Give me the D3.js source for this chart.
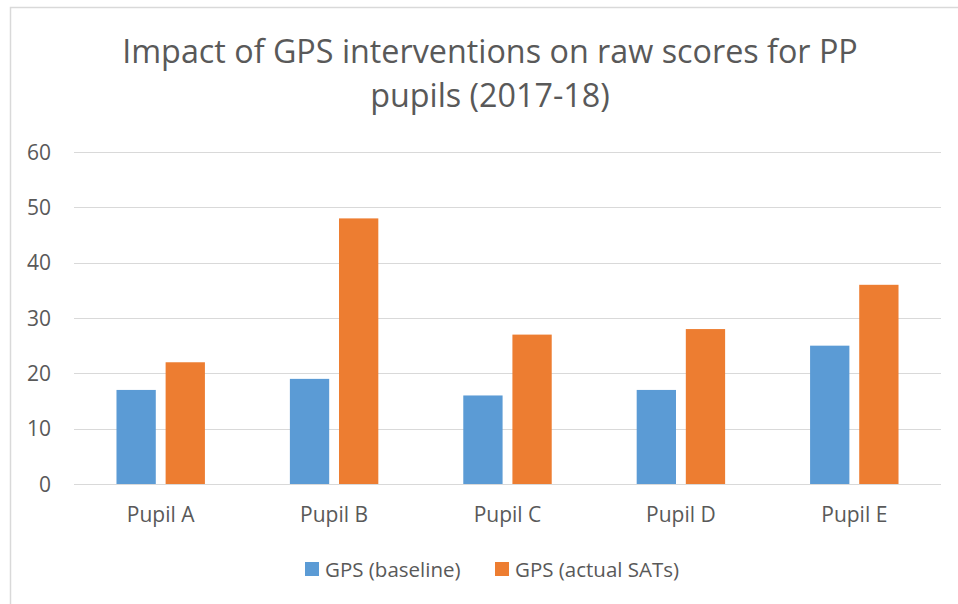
<!DOCTYPE html>
<html>
<head>
<meta charset="utf-8">
<script src="https://cdnjs.cloudflare.com/ajax/libs/d3/7.8.5/d3.min.js"></script>
<style>
  body { margin: 0; background: #fff; }
  text { font-family: "Open Sans", "Liberation Sans", sans-serif; fill: #595959; }
</style>
</head>
<body>
<div id="chart"></div>
<script>
(function () {
    "use strict";

var pupils = ["Pupil A", "Pupil B", "Pupil C", "Pupil D", "Pupil E"],
    seriesNames = ["GPS (baseline)", "GPS (actual SATs)"],
    baseline = [17, 19, 16, 17, 25],
    actualSats = [22, 48, 27, 28, 36],
    yTicks = [0, 10, 20, 30, 40, 50, 60],
    titleLines = ["Impact of GPS interventions on raw scores for PP", "pupils (2017-18)"];

var colors = ["#5B9BD5", "#ED7D31"];

var width = 958,
    height = 604,
    left = 74,
    right = 941,
    top = 152,
    bottom = 484,
    labelSize = 21;

var svg = d3.select("#chart").append("svg")
    .attr("width", width)
    .attr("height", height);

// chart frame (only left + top edge show)
svg.append("rect")
    .attr("x", 10.5)
    .attr("y", 7.5)
    .attr("width", 1000)
    .attr("height", 700)
    .attr("fill", "none")
    .attr("stroke", "#D9D9D9")
    .attr("stroke-width", 1.5);

// title, sized so line 1 spans about 736px like the reference
var title = svg.append("g");
var titleTexts = titleLines.map(function (t, i) {
    return title.append("text")
        .attr("x", 490)
        .attr("y", 63 + i * 44)
        .attr("text-anchor", "middle")
        .style("font-size", "33px")
        .text(t);
});
var w1 = titleTexts[0].node().getComputedTextLength();
var titleSize = 33 * 736 / w1;
if (titleSize > 36) titleSize = 36;
titleTexts.forEach(function (t) { t.style("font-size", titleSize + "px"); });

var y = d3.scaleLinear()
    .domain([0, 60])
    .range([bottom, top]);

var x0 = d3.scaleBand()
    .domain(pupils)
    .range([left, right])
    .paddingInner(0.49)
    .paddingOuter(0.245);

var x1 = d3.scaleBand()
    .domain(seriesNames)
    .range([0, x0.bandwidth()])
    .paddingInner(0.2);

// gridlines
svg.append("g")
    .selectAll("line")
    .data(yTicks)
    .join("line")
    .attr("x1", left)
    .attr("x2", right)
    .attr("y1", function (d) { return Math.round(y(d)) + 0.5; })
    .attr("y2", function (d) { return Math.round(y(d)) + 0.5; })
    .attr("stroke", "#D9D9D9")
    .attr("stroke-width", 1.2);

// y tick labels
svg.append("g")
    .selectAll("text")
    .data(yTicks)
    .join("text")
    .attr("x", 51)
    .attr("y", function (d) { return y(d) + 7.5; })
    .attr("text-anchor", "end")
    .style("font-size", labelSize + "px")
    .text(function (d) { return d; });

// bars
var rows = pupils.map(function (p, i) {
    return { pupil: p, values: [baseline[i], actualSats[i]] };
});

var groups = svg.append("g")
    .selectAll("g")
    .data(rows)
    .join("g")
    .attr("transform", function (d) { return "translate(" + x0(d.pupil) + ",0)"; });

groups.selectAll("rect")
    .data(function (d) { return d.values.map(function (v, j) { return { s: seriesNames[j], v: v, j: j }; }); })
    .join("rect")
    .attr("x", function (d) { return x1(d.s); })
    .attr("y", function (d) { return y(d.v); })
    .attr("width", x1.bandwidth())
    .attr("height", function (d) { return bottom - y(d.v); })
    .attr("fill", function (d) { return colors[d.j]; });

// category labels
svg.append("g")
    .selectAll("text")
    .data(pupils)
    .join("text")
    .attr("x", function (d) { return x0(d) + x0.bandwidth() / 2; })
    .attr("y", 522)
    .attr("text-anchor", "middle")
    .style("font-size", labelSize + "px")
    .text(function (d) { return d; });

// legend
var legendX = [305, 495];
var legend = svg.append("g");
seriesNames.forEach(function (s, i) {
    legend.append("rect")
        .attr("x", legendX[i])
        .attr("y", 562)
        .attr("width", 14)
        .attr("height", 14)
        .attr("fill", colors[i]);
    legend.append("text")
        .attr("x", legendX[i] + 20)
        .attr("y", 577)
        .style("font-size", "20.5px")
        .text(s);
});

})();
</script>
</body>
</html>
